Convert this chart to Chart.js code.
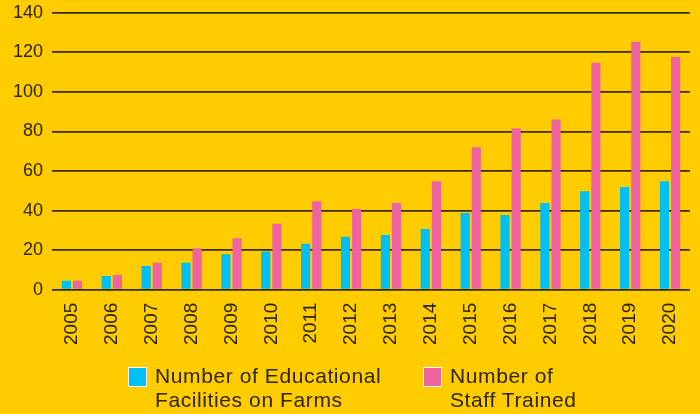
<!DOCTYPE html>
<html><head><meta charset="utf-8">
<script src="https://cdn.jsdelivr.net/npm/chart.js@4/dist/chart.umd.min.js"></script>
<style>
html,body{margin:0;padding:0;background:#FFCC00;}
#wrap{position:relative;width:700px;height:414px;background:#FFCC00;overflow:hidden;}
#c{position:absolute;left:0;top:-7px;}
#legend{position:absolute;top:364px;left:0;width:700px;font-family:"Liberation Sans",Arial,sans-serif;font-size:21px;letter-spacing:0.6px;line-height:24px;color:#2e2500;}
.item{position:absolute;display:flex;align-items:flex-start;}
.box{width:19px;height:20px;border:1.5px solid #fff;box-sizing:border-box;margin-top:3px;margin-right:8px;flex:none;}
.txt{white-space:nowrap;}
</style></head>
<body><div id="wrap"><canvas id="c" width="700" height="421"></canvas><div id="legend"></div></div>
<script>
const years = ["2005","2006","2007","2008","2009","2010","2011","2012","2013","2014","2015","2016","2017","2018","2019","2020"];
const facilities = [4.5,7,12,13.6,18,19.3,23.2,26.8,27.7,30.7,38.8,37.8,43.8,49.8,51.9,54.9];
const staffTrained = [4.5,7.5,13.6,21,26,33.4,44.7,40.8,43.8,54.9,72,81.6,86,114.8,125.4,117.8];
const yTicks = [0,20,40,60,80,100,120,140];
const seriesLabels = [["Number of Educational","Facilities on Farms"],["Number of","Staff Trained"]];
const colors = ["#00BFF3","#EF63A1"];
const ink = "#2e2500";

new Chart(document.getElementById('c'), {
  type: 'bar',
  data: {
    labels: years,
    datasets: [
      {label: seriesLabels[0].join(' '), data: facilities, backgroundColor: colors[0], categoryPercentage: 0.56, barPercentage: 0.82},
      {label: seriesLabels[1].join(' '), data: staffTrained, backgroundColor: colors[1], categoryPercentage: 0.56, barPercentage: 0.82}
    ]
  },
  options: {
    responsive: false,
    animation: false,
    layout: {padding: {left: 4, right: 10, top: -3, bottom: 64}},
    plugins: {legend: {display: false}, tooltip: {enabled: false}},
    scales: {
      x: {
        grid: {display: false},
        border: {display: false},
        ticks: {color: ink, font: {family: "Liberation Sans", size: 19}, minRotation: 90, maxRotation: 90, padding: 5, autoSkip: false}
      },
      y: {
        min: 0, max: 140,
        afterBuildTicks: (s) => { s.ticks = yTicks.map(v => ({value: v})); },
        grid: {color: "#3a2d05", lineWidth: 1.8, drawTicks: false},
        border: {display: false},
        ticks: {color: ink, font: {family: "Liberation Sans", size: 18}, padding: 9}
      }
    }
  }
});

const lg = document.getElementById('legend');
const pos = [128, 423];
seriesLabels.forEach((lines, i) => {
  const d = document.createElement('div');
  d.className = 'item';
  d.style.left = pos[i] + 'px';
  d.innerHTML = '<div class="box" style="background:' + colors[i] + '"></div><div class="txt">' + lines.join('<br>') + '</div>';
  lg.appendChild(d);
});
</script></body></html>
